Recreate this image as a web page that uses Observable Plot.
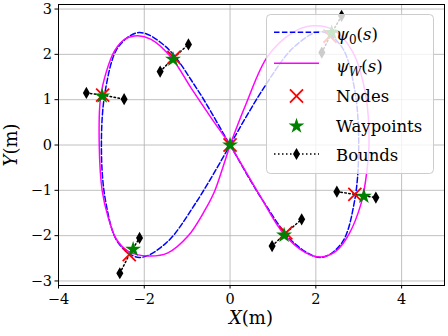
<!DOCTYPE html>
<html>
<head>
<meta charset="utf-8">
<script src="https://cdn.jsdelivr.net/npm/d3@7"></script>
<script src="https://cdn.jsdelivr.net/npm/@observablehq/plot@0.6"></script>
<style>
  html, body { margin: 0; padding: 0; background: #fff; }
  #chart { position: relative; width: 448px; height: 336px; }
</style>
</head>
<body>
<div id="chart"></div>
<script>
// ψ0(s) reference path (blue dashed)
const psi0X = [0, 0.78, 1.5, 2.12, 2.6, 2.9, 3.0, 2.9, 2.6, 2.12, 1.5, 0.78, 0, -0.78, -1.5, -2.12, -2.6, -2.9, -3.0, -2.9, -2.6, -2.12, -1.5, -0.78, 0];
const psi0Y = [0, 1.25, 2.17, 2.5, 2.17, 1.25, 0, -1.25, -2.17, -2.48, -2.17, -1.25, 0, 1.25, 2.17, 2.48, 2.17, 1.25, 0, -1.25, -2.17, -2.48, -2.17, -1.25, 0];
// ψW(s) path (magenta solid)
const psiWX = [0, 0.37, 0.88, 1.46, 1.92, 2.39, 2.85, 3.16, 3.24, 3.16, 3.05, 2.77, 2.47, 2.12, 1.77, 1.26, 0.68, 0.22, 0,
               -0.44, -0.91, -1.37, -1.84, -2.15, -2.46, -2.69, -2.88, -3.02, -3.05, -2.98, -2.84, -2.65, -2.38, -1.91, -1.45, -0.98, -0.60, -0.36, -0.17, 0];
const psiWY = [0, 0.90, 1.96, 2.48, 2.63, 2.55, 2.07, 1.12, 0.02, -0.79, -1.31, -1.97, -2.34, -2.47, -2.38, -1.97, -1.09, -0.35, 0,
               0.60, 1.26, 1.93, 2.33, 2.41, 2.33, 2.08, 1.63, 1.04, 0.0, -1.02, -1.60, -2.08, -2.34, -2.45, -2.38, -2.01, -1.46, -1.02, -0.50, 0];
// Nodes (red ×)
const nodeX = [-2.97, -1.31, 0, -2.35, 1.30, 2.91, 2.33];
const nodeY = [1.10, 1.93, 0, -2.42, -1.94, -1.09, 2.40];
// Waypoints (green ★)
const wpX = [-2.98, -1.33, 0, -2.26, 1.26, 3.12, 2.37];
const wpY = [1.08, 1.89, 0, -2.30, -1.99, -1.13, 2.48];
// Bounds: lower / upper diamonds around each node
const boundLoX = [-3.35, -1.63, -2.57, 0.98, 2.49, 2.14];
const boundLoY = [1.15, 1.62, -2.83, -2.23, -1.03, 2.04];
const boundHiX = [-2.47, -0.97, -2.11, 1.67, 3.40, 2.60];
const boundHiY = [1.01, 2.22, -2.05, -1.64, -1.16, 2.85];
const boundNode = [0, 1, 3, 4, 5, 6];
// Axis ticks
const xTicks = [-4, -2, 0, 2, 4];
const yTicks = [-3, -2, -1, 0, 1, 2, 3];

const psi0 = psi0X.map((x, i) => ({x, y: psi0Y[i]}));
const psiW = psiWX.map((x, i) => ({x, y: psiWY[i]}));
const nodes = nodeX.map((x, i) => ({x, y: nodeY[i]}));
const wps = wpX.map((x, i) => ({x, y: wpY[i]}));
const bounds = [];
boundLoX.forEach((_, i) => {
  bounds.push({g: i, x: boundLoX[i], y: boundLoY[i], end: true});
  bounds.push({g: i, x: nodeX[boundNode[i]], y: nodeY[boundNode[i]], end: false});
  bounds.push({g: i, x: boundHiX[i], y: boundHiY[i], end: true});
});
const fmt = d => d < 0 ? "\u2212" + (-d) : String(d);

const svg = Plot.plot({
  width: 448, height: 336,
  marginLeft: 58, marginRight: 4, marginTop: 4, marginBottom: 51,
  style: {fontFamily: "DejaVu Serif", fontSize: "14.5px", background: "white", color: "black"},
  x: {domain: [-4, 5]},
  y: {domain: [-3.1, 3.1]},
  marks: [
    Plot.gridX(xTicks, {stroke: "#b0b0b0", strokeOpacity: 1, strokeWidth: 0.8}),
    Plot.gridY(yTicks, {stroke: "#b0b0b0", strokeOpacity: 1, strokeWidth: 0.8}),
    Plot.line(psi0, {x: "x", y: "y", curve: "catmull-rom", stroke: "#0000ff", strokeWidth: 1.5, strokeDasharray: "5.5,2.4"}),
    Plot.line(psiW, {x: "x", y: "y", curve: "catmull-rom", stroke: "#ff00ff", strokeWidth: 1.5}),
    Plot.line(bounds, {x: "x", y: "y", z: "g", stroke: "black", strokeWidth: 1.5, strokeDasharray: "1.5,2.5"}),
    Plot.dot(bounds.filter(d => d.end), {x: "x", y: "y", symbol: "diamond", r: 3.7, fill: "black", stroke: "none"}),
    Plot.dot(nodes, {x: "x", y: "y", symbol: "times", r: 6, stroke: "#ff0000", strokeWidth: 1.8}),
    Plot.dot(wps, {x: "x", y: "y", symbol: "star", r: 5, fill: "#008000", stroke: "none"}),
    Plot.frame({stroke: "black", strokeWidth: 1}),
    Plot.axisX({ticks: xTicks, tickFormat: fmt, tickSize: 3.5, tickPadding: 5, label: null, fontSize: 14.5}),
    Plot.axisY({ticks: yTicks, tickFormat: fmt, tickSize: 3.5, tickPadding: 3, label: null, fontSize: 14.5})
  ]
});
document.getElementById("chart").appendChild(svg);

const s = d3.select(svg);
// Axis titles
const xl = s.append("text").attr("x", 251).attr("y", 324).attr("text-anchor", "middle")
  .attr("font-size", 18).attr("font-family", "DejaVu Serif").attr("fill", "black");
xl.append("tspan").attr("font-style", "italic").text("X");
xl.append("tspan").text("(m)");
const yl = s.append("text").attr("transform", "translate(17,145) rotate(-90)").attr("text-anchor", "middle")
  .attr("font-size", 18).attr("font-family", "DejaVu Serif").attr("fill", "black");
yl.append("tspan").attr("font-style", "italic").text("Y");
yl.append("tspan").text("(m)");

// Legend
const lg = s.append("g").attr("font-family", "DejaVu Serif").attr("font-size", 16.5)
  .attr("fill", "black").attr("text-anchor", "start");
lg.append("rect").attr("x", 266.5).attr("y", 14.5).attr("width", 167).attr("height", 159).attr("rx", 4)
  .attr("fill", "white").attr("fill-opacity", 0.8).attr("stroke", "#cccccc").attr("stroke-width", 1);
const hx0 = 274, hx1 = 319, hxc = 296.5, tx = 336;
lg.append("line").attr("x1", hx0).attr("x2", hx1).attr("y1", 32.3).attr("y2", 32.3)
  .attr("stroke", "#0000ff").attr("stroke-width", 1.5).attr("stroke-dasharray", "5.5,2.4");
lg.append("line").attr("x1", hx0).attr("x2", hx1).attr("y1", 63.3).attr("y2", 63.3)
  .attr("stroke", "#ff00ff").attr("stroke-width", 1.5);
lg.append("path").attr("transform", `translate(${hxc},96)`).attr("d", d3.symbol(d3.symbolTimes, Math.PI * 6 * 6)())
  .attr("stroke", "#ff0000").attr("stroke-width", 1.8).attr("fill", "none");
lg.append("path").attr("transform", `translate(${hxc},126)`).attr("d", d3.symbol(d3.symbolStar, Math.PI * 5 * 5)())
  .attr("fill", "#008000");
lg.append("line").attr("x1", hx0).attr("x2", hx1).attr("y1", 154).attr("y2", 154)
  .attr("stroke", "black").attr("stroke-width", 1.5).attr("stroke-dasharray", "1.5,2.5");
lg.append("path").attr("transform", `translate(${hxc},154)`).attr("d", d3.symbol(d3.symbolDiamond, Math.PI * 3.7 * 3.7)())
  .attr("fill", "black");
const t0 = lg.append("text").attr("x", tx).attr("y", 40);
t0.append("tspan").attr("font-style", "italic").text("ψ");
t0.append("tspan").attr("font-size", 12).attr("dy", 4).text("0");
t0.append("tspan").attr("dy", -4).text("(");
t0.append("tspan").attr("font-style", "italic").text("s");
t0.append("tspan").text(")");
const t1 = lg.append("text").attr("x", tx).attr("y", 72);
t1.append("tspan").attr("font-style", "italic").text("ψ");
t1.append("tspan").attr("font-size", 12).attr("font-style", "italic").attr("dy", 4).text("W");
t1.append("tspan").attr("dy", -4).text("(");
t1.append("tspan").attr("font-style", "italic").text("s");
t1.append("tspan").text(")");
lg.append("text").attr("x", tx).attr("y", 101.7).text("Nodes");
lg.append("text").attr("x", tx).attr("y", 131.7).text("Waypoints");
lg.append("text").attr("x", tx).attr("y", 160.7).text("Bounds");
</script>
</body>
</html>
